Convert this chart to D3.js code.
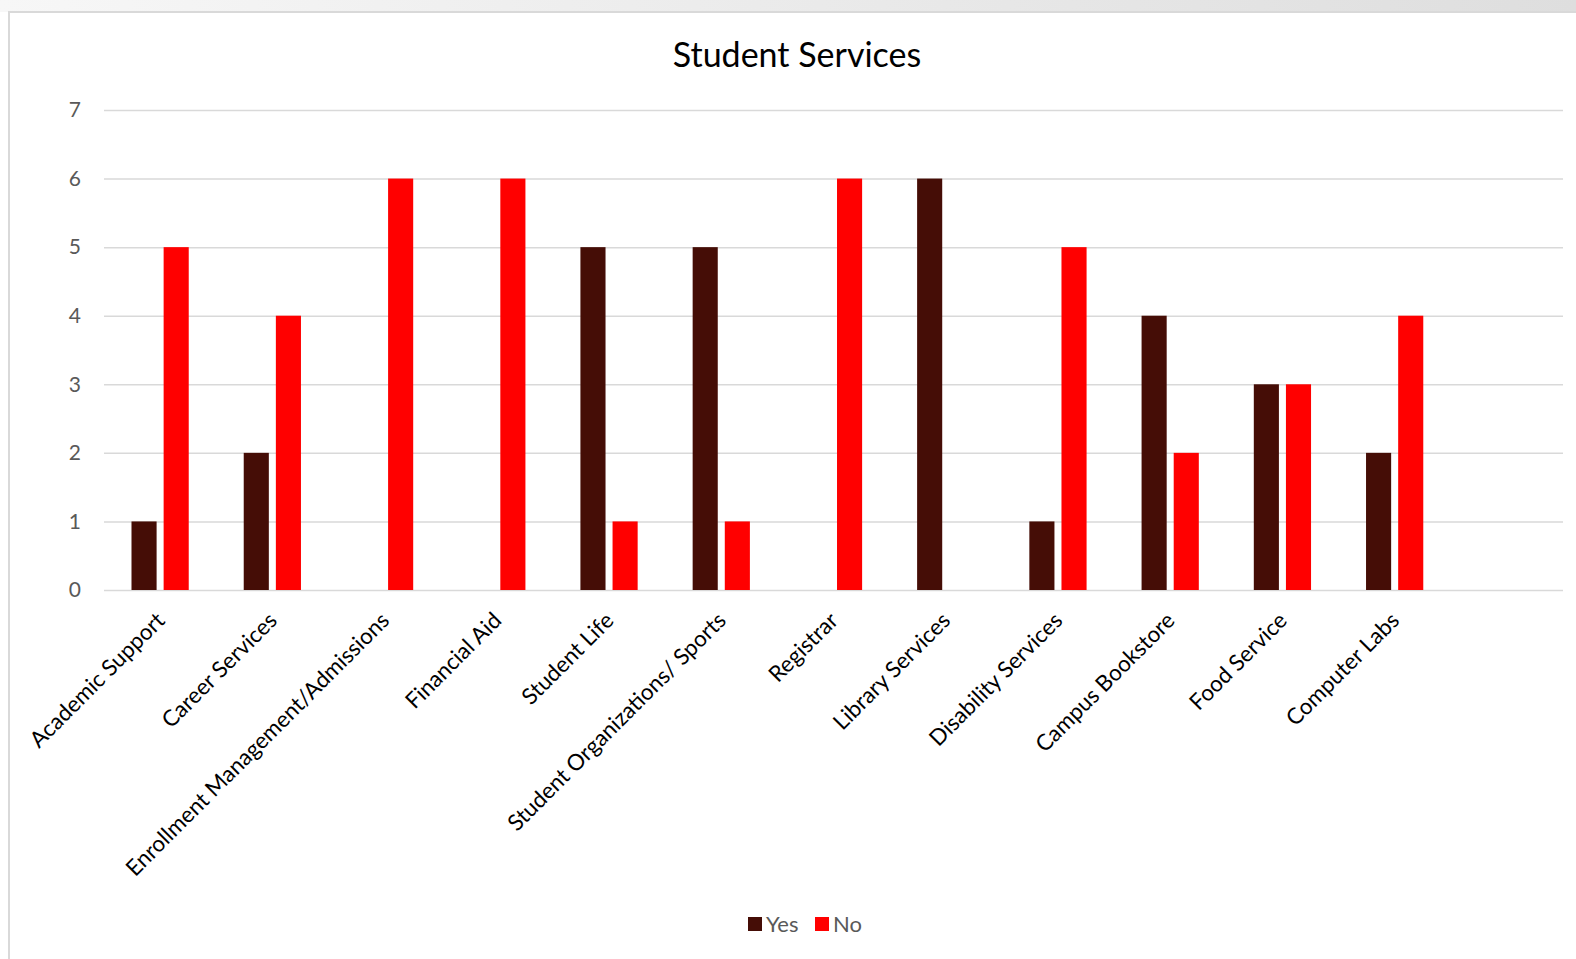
<!DOCTYPE html>
<html>
<head>
<meta charset="utf-8">
<title>Student Services</title>
<style>
  body { margin: 0; background: #fff; }
  svg { display: block; }
  .grid line { stroke: #d9d9d9; stroke-width: 1.5; }
  .grid path { display: none; }
  .yaxis text { font-family: Lato, sans-serif; font-size: 21px; fill: #595959; }
  .cat text { font-family: Lato, sans-serif; font-size: 22.4px; fill: #000; }
</style>
</head>
<body>
<script src="https://cdn.jsdelivr.net/npm/d3@7"></script>
<script>
// data
var categories = ["Academic Support", "Career Services", "Enrollment Management/Admissions",
  "Financial Aid", "Student Life", "Student Organizations/ Sports", "Registrar",
  "Library Services", "Disability Services", "Campus Bookstore", "Food Service", "Computer Labs"];
var seriesNames = ["Yes", "No"];
var yesValues = [1, 2, 0, 0, 5, 5, 0, 6, 1, 4, 3, 2];
var noValues  = [5, 4, 6, 6, 1, 1, 6, 0, 5, 2, 3, 4];
var yTicks = [0, 1, 2, 3, 4, 5, 6, 7];
var colors = ["#450d06", "#ff0000"];

var width = 1576, height = 959;
var plot = {left: 104, right: 1563, top: 110, bottom: 590};

var svg = d3.select("body").append("svg")
  .attr("width", width)
  .attr("height", height);

// grey strip on top + chart frame
var grad = svg.append("defs").append("linearGradient").attr("id", "strip");
grad.append("stop").attr("offset", "0%").attr("stop-color", "#f7f7f7");
grad.append("stop").attr("offset", "100%").attr("stop-color", "#dedede");
svg.append("rect").attr("x", 0).attr("y", 0).attr("width", width).attr("height", 12).attr("fill", "url(#strip)");
svg.append("rect").attr("x", 9).attr("y", 12).attr("width", width).attr("height", height)
  .attr("fill", "#fff").attr("stroke", "#d9d9d9").attr("stroke-width", 2);

// scales - 13 slots, last one empty like the original
var slots = categories.concat([""]);
var x0 = d3.scaleBand().domain(d3.range(slots.length))
  .range([plot.left, plot.right])
  .paddingInner(0.49).paddingOuter(0.245);
var x1 = d3.scaleBand().domain(seriesNames)
  .range([0, x0.bandwidth()])
  .paddingInner(0.21875);
var y = d3.scaleLinear().domain([0, 7]).range([plot.bottom, plot.top]);

// gridlines
svg.append("g").attr("class", "grid")
  .attr("transform", "translate(" + plot.left + ",0)")
  .call(d3.axisRight(y).tickValues(yTicks).tickSize(plot.right - plot.left).tickFormat(""));

// y labels
svg.append("g").attr("class", "yaxis")
  .selectAll("text").data(yTicks).enter()
  .append("text")
  .attr("x", 81)
  .attr("y", function(d){ return y(d); })
  .attr("dy", "0.35em")
  .attr("text-anchor", "end")
  .text(function(d){ return d; });

// bars
var rows = categories.map(function(c, i){ return {cat: i, vals: [yesValues[i], noValues[i]]}; });
var groups = svg.append("g").selectAll("g").data(rows).enter()
  .append("g")
  .attr("transform", function(d){ return "translate(" + x0(d.cat) + ",0)"; });
groups.selectAll("rect")
  .data(function(d){ return d.vals.map(function(v, k){ return {name: seriesNames[k], v: v, k: k}; }); })
  .enter().append("rect")
  .attr("x", function(d){ return x1(d.name); })
  .attr("y", function(d){ return y(d.v); })
  .attr("width", x1.bandwidth())
  .attr("height", function(d){ return y(0) - y(d.v); })
  .attr("fill", function(d){ return colors[d.k]; });

// category labels, rotated -45
svg.append("g").attr("class", "cat")
  .selectAll("text").data(categories).enter()
  .append("text")
  .attr("transform", function(d, i){
    var cx = x0(i) + x0.bandwidth() / 2;
    return "translate(" + (cx + 6) + "," + 622 + ") rotate(-45)";
  })
  .attr("text-anchor", "end")
  .text(function(d){ return d; });

// title
svg.append("text")
  .attr("x", 797).attr("y", 67)
  .attr("text-anchor", "middle")
  .style("font-family", "Lato, sans-serif")
  .style("font-size", "34px")
  .attr("fill", "#000")
  .text("Student Services");

// legend
var legend = svg.append("g").attr("transform", "translate(748,917)");
var items = legend.selectAll("g").data(seriesNames).enter().append("g")
  .attr("transform", function(d, i){ return "translate(" + (i * 67) + ",0)"; });
items.append("rect").attr("width", 14).attr("height", 14)
  .attr("fill", function(d, i){ return colors[i]; });
items.append("text").attr("x", 18).attr("y", 7).attr("dy", "0.35em")
  .style("font-family", "Lato, sans-serif").style("font-size", "22px")
  .attr("fill", "#595959")
  .text(function(d){ return d; });
</script>
</body>
</html>
